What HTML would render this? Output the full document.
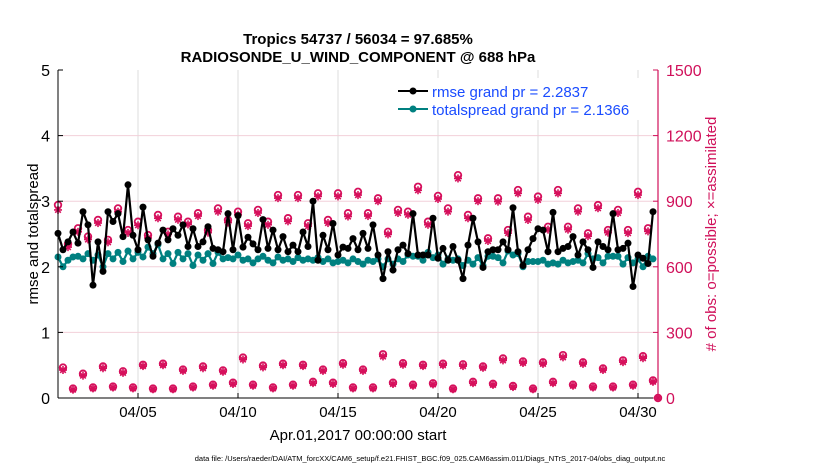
<!DOCTYPE html>
<html><head><meta charset="utf-8"><style>
body{margin:0;background:#fff;}
svg{display:block;font-family:"Liberation Sans",sans-serif;}
</style></head><body>
<svg id="chart" width="830" height="470">
<g id="grid"></g>
<g id="marks"></g>
<g id="axes"></g>
<text x="358" y="44" text-anchor="middle" font-size="15" font-weight="bold">Tropics 54737 / 56034 = 97.685%</text>
<text x="358" y="62" text-anchor="middle" font-size="15" font-weight="bold">RADIOSONDE_U_WIND_COMPONENT @ 688 hPa</text>
<text transform="translate(38,234) rotate(-90)" text-anchor="middle" font-size="15">rmse and totalspread</text>
<text transform="translate(716,234) rotate(-90)" text-anchor="middle" font-size="15" fill="#d0105a"># of obs: o=possible; ×=assimilated</text>
<text x="358" y="440" text-anchor="middle" font-size="15">Apr.01,2017 00:00:00 start</text>
<text x="430" y="461" text-anchor="middle" font-size="7.5">data file: /Users/raeder/DAI/ATM_forcXX/CAM6_setup/f.e21.FHIST_BGC.f09_025.CAM6assim.011/Diags_NTrS_2017-04/obs_diag_output.nc</text>
<g>
<rect x="394" y="78" width="258" height="42" fill="#fff"/>
<line x1="398" y1="91" x2="428" y2="91" stroke="#000" stroke-width="2"/>
<circle cx="413" cy="91" r="3.5" fill="#000"/>
<text x="432" y="97" font-size="15" fill="#1a4cff">rmse grand pr = 2.2837</text>
<line x1="398" y1="109" x2="428" y2="109" stroke="#008080" stroke-width="2"/>
<circle cx="413" cy="109" r="3.5" fill="#008080"/>
<text x="432" y="115" font-size="15" fill="#1a4cff">totalspread grand pr = 2.1366</text>
</g>
</svg>
<script>
const rmse=[2.51,2.26,2.38,2.53,2.36,2.84,2.64,1.72,2.38,1.93,2.84,2.69,2.81,2.46,3.25,2.48,2.26,2.91,2.41,2.16,2.36,2.56,2.41,2.58,2.48,2.64,2.31,2.58,2.31,2.38,2.61,2.28,2.26,2.23,2.81,2.26,2.78,2.30,2.45,2.35,
2.26,2.72,2.28,2.56,2.26,2.46,2.23,2.33,2.23,2.53,2.31,3.0,2.1,2.48,2.26,2.66,2.18,2.30,2.28,2.43,2.26,2.51,2.28,2.64,2.18,1.82,2.23,1.95,2.26,2.33,2.2,2.81,2.18,2.18,2.18,2.74,2.13,2.28,2.1,2.31,2.1,1.82,
2.33,2.74,2.38,1.99,2.23,2.26,2.26,2.38,2.26,2.9,2.23,2.02,2.26,2.43,2.58,2.56,2.23,2.83,2.23,2.28,2.31,2.46,2.18,2.38,2.26,1.99,2.38,2.31,2.26,2.81,2.26,2.28,2.36,1.70,2.18,2.13,2.05,2.84];
const spread=[2.15,2.0,2.1,2.15,2.16,2.12,2.2,2.1,2.18,2.0,2.2,2.12,2.22,2.08,2.24,2.12,2.22,2.15,2.3,2.2,2.34,2.12,2.2,2.05,2.22,2.12,2.2,2.02,2.18,2.1,2.2,2.05,2.22,2.12,2.14,2.12,2.18,2.1,2.12,2.06,
2.12,2.16,2.1,2.06,2.15,2.1,2.12,2.08,2.14,2.1,2.12,2.1,2.14,2.08,2.12,2.06,2.08,2.1,2.06,2.12,2.08,2.04,2.1,2.08,2.12,2.0,2.12,2.04,2.12,2.08,2.18,2.16,2.16,2.1,2.22,2.14,2.18,2.04,2.12,2.1,2.12,2.02,
2.1,2.04,2.14,2.02,2.16,2.16,2.14,2.06,2.24,2.18,2.2,2.0,2.08,2.08,2.08,2.1,2.04,2.06,2.04,2.1,2.06,2.08,2.1,2.06,2.2,2.12,2.14,2.06,2.16,2.16,2.16,2.04,2.14,2.06,2.12,2.0,2.16,2.12];
const obsPossible=[883,139,704,43,776,111,738,48,814,144,723,52,867,122,768,48,806,152,745,43,837,157,760,43,829,130,806,52,845,144,768,61,867,126,814,70,852,185,799,61,
860,148,806,48,928,157,822,61,928,152,799,74,936,130,814,70,936,159,845,48,943,130,845,48,913,200,760,70,860,159,852,61,966,152,806,67,924,157,867,43,
1019,154,837,74,913,144,730,65,913,181,768,55,951,167,829,43,921,163,783,74,951,196,783,61,867,163,753,52,882,135,768,52,860,172,768,61,943,191,776,80,0];
const obsAssim=[860,128,690,38,760,102,725,44,800,136,712,48,852,115,755,44,790,146,732,40,822,150,748,40,815,124,794,48,832,136,756,56,852,120,802,64,838,176,786,56,
846,140,792,44,914,150,808,56,914,146,786,68,922,124,800,64,922,152,830,44,928,124,832,44,900,190,748,64,846,152,838,56,950,146,792,62,910,150,852,40,
1004,146,822,68,900,138,718,60,898,172,754,50,936,160,814,40,906,156,770,68,936,186,770,56,852,156,740,48,868,128,756,48,846,164,754,56,928,182,762,74,0];
const xTicks=[4,9,14,19,24,29];
const xTickLabels=["04/05","04/10","04/15","04/20","04/25","04/30"];
const yTicksLeft=[0,1,2,3,4,5];
const yTicksRight=[0,300,600,900,1200,1500];

const X0=58,X1=658,Y0=398,Y1=70;
const xs=d=>X0+d*(X1-X0)/30;
const yl=v=>Y0-v*(Y0-Y1)/5;
const yr=v=>Y0-v*(Y0-Y1)/1500;
const ti=i=>i*0.25;
const NS="http://www.w3.org/2000/svg";
function mk(parent,tag,attrs){const e=document.createElementNS(NS,tag);for(const k in attrs)e.setAttribute(k,attrs[k]);parent.appendChild(e);return e;}
const grid=document.getElementById('grid'),marks=document.getElementById('marks'),axes=document.getElementById('axes');
xTicks.forEach(d=>{const l=mk(grid,'line',{x1:xs(d),x2:xs(d),y1:Y1,y2:Y0,stroke:'#dcdcdc','stroke-width':1});

});
yTicksRight.forEach(v=>{if(v===0||v===1500)return;const l=mk(grid,'line',{x1:X0,x2:X1,y1:yr(v),y2:yr(v),stroke:'#f2d0da','stroke-width':1});

});
function star(g,x,y){const r=4;[[0,r],[r,0],[r*0.7,r*0.7],[r*0.7,-r*0.7]].forEach(([dx,dy])=>mk(g,'line',{x1:x-dx,y1:y-dy,x2:x+dx,y2:y+dy,stroke:'#d6105c','stroke-width':1.6}));}
obsPossible.forEach((v,i)=>{const c=mk(marks,'circle',{cx:xs(ti(i)),cy:yr(v),r:3.3,fill:'none',stroke:'#d6105c','stroke-width':1.8});

});
obsAssim.forEach((v,i)=>{const g=mk(marks,'g',{});


star(g,xs(ti(i)),yr(v));});
function series(arr,color,name){
 const p=mk(marks,'polyline',{points:arr.map((v,i)=>xs(ti(i))+','+yl(v)).join(' '),fill:'none',stroke:color,'stroke-width':2.2,'stroke-linejoin':'round'});
 
 
 arr.forEach((v,i)=>{const c=mk(marks,'circle',{cx:xs(ti(i)),cy:yl(v),r:3.5,fill:color});
 
 });
}
series(spread,'#008080','totalspread');
series(rmse,'#000','rmse');
mk(axes,'line',{x1:X0,x2:X0,y1:Y1,y2:Y0,stroke:'#000','stroke-width':1});
mk(axes,'line',{x1:X0,x2:X1,y1:Y0,y2:Y0,stroke:'#000','stroke-width':1});
mk(axes,'line',{x1:X1,x2:X1,y1:Y1,y2:Y0,stroke:'#d0105a','stroke-width':1.2});
yTicksLeft.forEach(v=>{mk(axes,'line',{x1:X0,x2:X0+5,y1:yl(v),y2:yl(v),stroke:'#000'});
const t=mk(axes,'text',{x:X0-8,y:yl(v)+6,'text-anchor':'end','font-size':16});t.textContent=v;

});
yTicksRight.forEach(v=>{mk(axes,'line',{x1:X1-5,x2:X1,y1:yr(v),y2:yr(v),stroke:'#d0105a'});
const t=mk(axes,'text',{x:X1+8,y:yr(v)+6,'font-size':16,fill:'#d0105a'});t.textContent=v;

});
xTicks.forEach((d,k)=>{mk(axes,'line',{x1:xs(d),x2:xs(d),y1:Y0,y2:Y0-5,stroke:'#000'});
const t=mk(axes,'text',{x:xs(d),y:Y0+19,'text-anchor':'middle','font-size':15});t.textContent=xTickLabels[k];

});
</script>
</body></html>
